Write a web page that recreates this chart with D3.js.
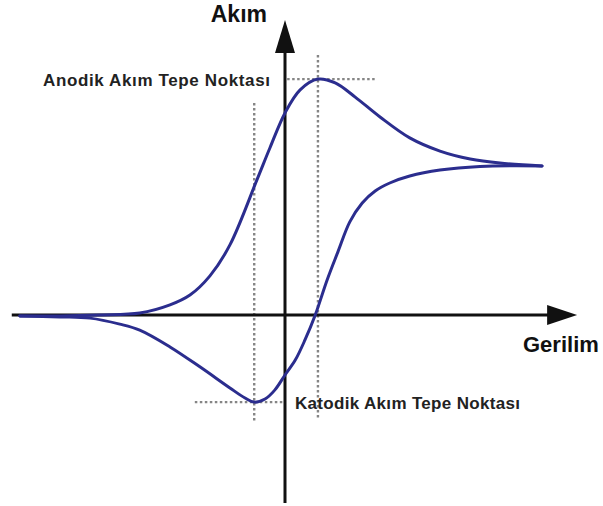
<!DOCTYPE html>
<html>
<head>
<meta charset="utf-8">
<script src="https://cdn.jsdelivr.net/npm/d3@7"></script>
<style>
  html, body { margin: 0; padding: 0; background: #fff; }
  svg { display: block; }
</style>
</head>
<body>
<svg id="chart" width="603" height="506"></svg>
<script>
// ---- Data (potential E, current I in arbitrary units) ----
const forwardE = [-0.491, -0.417, -0.343, -0.269, -0.213, -0.176, -0.139, -0.102, -0.052, -0.028, 0.000, 0.028, 0.061, 0.093, 0.130, 0.176, 0.231, 0.287, 0.343, 0.398, 0.476];
const forwardI = [-0.004, -0.004, 0.000, 0.008, 0.042, 0.083, 0.163, 0.292, 0.563, 0.696, 0.842, 0.938, 0.983, 0.967, 0.908, 0.825, 0.738, 0.683, 0.650, 0.633, 0.621];
const reverseE = [-0.491, -0.417, -0.361, -0.306, -0.269, -0.213, -0.157, -0.102, -0.074, -0.057, -0.037, -0.019, 0.000, 0.019, 0.037, 0.056, 0.078, 0.098, 0.120, 0.143, 0.167, 0.194, 0.231, 0.287, 0.361, 0.476];
const reverseI = [-0.004, -0.008, -0.013, -0.038, -0.063, -0.133, -0.217, -0.304, -0.346, -0.363, -0.350, -0.313, -0.250, -0.188, -0.104, 0.000, 0.146, 0.263, 0.388, 0.467, 0.517, 0.550, 0.579, 0.604, 0.619, 0.621];

const peakLabels = ["Anodik Akım Tepe Noktası", "Katodik Akım Tepe Noktası"];
const peakE = [0.061, -0.057];
const peakI = [0.983, -0.363];
// extents of guide lines: vertical (I from..to), horizontal (E from..to)
const guideVertI = [[1.083, -0.429], [0.883, -0.446]];
const guideHorzE = [[0.004, 0.170], [-0.167, -0.004]];

const axisLabels = ["Gerilim", "Akım"];
const axisXExtent = [-0.506, 0.541];
const axisYExtent = [-0.783, 1.229];

// ---- Scales ----
const x = d3.scaleLinear().domain([-0.5, 0.5]).range([15, 555]);
const y = d3.scaleLinear().domain([-1, 1]).range([555, 75]);

const svg = d3.select("#chart");
const font = "'Liberation Sans', Arial, Helvetica, sans-serif";

// ---- Guide dotted lines ----
const guideColor = "#858585";
const g = svg.append("g");
peakE.forEach((e, i) => {
  g.append("line")
    .attr("x1", x(e)).attr("x2", x(e))
    .attr("y1", y(guideVertI[i][0])).attr("y2", y(guideVertI[i][1]))
    .attr("stroke", guideColor).attr("stroke-width", 2.4)
    .attr("stroke-dasharray", "2.5,2.5");
  g.append("line")
    .attr("x1", x(guideHorzE[i][0])).attr("x2", x(guideHorzE[i][1]))
    .attr("y1", y(peakI[i])).attr("y2", y(peakI[i]))
    .attr("stroke", guideColor).attr("stroke-width", 2.4)
    .attr("stroke-dasharray", "2.5,2.5");
});

// ---- Axes ----
const axisColor = "#111";
const x0 = x(0), y0 = y(0);
svg.append("line")
  .attr("x1", x(axisXExtent[0])).attr("x2", x(axisXExtent[1]) - 20)
  .attr("y1", y0).attr("y2", y0)
  .attr("stroke", axisColor).attr("stroke-width", 3);
svg.append("path")
  .attr("d", `M${x(axisXExtent[1])},${y0} L${x(axisXExtent[1]) - 30},${y0 - 10} L${x(axisXExtent[1]) - 30},${y0 + 10} Z`)
  .attr("fill", axisColor);
svg.append("line")
  .attr("x1", x0).attr("x2", x0)
  .attr("y1", y(axisYExtent[0])).attr("y2", y(axisYExtent[1]) + 20)
  .attr("stroke", axisColor).attr("stroke-width", 3);
svg.append("path")
  .attr("d", `M${x0},${y(axisYExtent[1])} L${x0 - 10},${y(axisYExtent[1]) + 33} L${x0 + 10},${y(axisYExtent[1]) + 33} Z`)
  .attr("fill", axisColor);

// ---- Curves ----
const line = d3.line().x(d => x(d[0])).y(d => y(d[1])).curve(d3.curveCatmullRom.alpha(0.5));
const fwd = forwardE.map((e, i) => [e, forwardI[i]]);
const rev = reverseE.map((e, i) => [e, reverseI[i]]);
const curveColor = "#2b2d8e";
[fwd, rev].forEach(pts => {
  svg.append("path")
    .attr("d", line(pts))
    .attr("fill", "none")
    .attr("stroke", curveColor)
    .attr("stroke-width", 3)
    .attr("stroke-linecap", "round");
});

// ---- Labels ----
svg.append("text")
  .attr("x", x0 - 18).attr("y", y(axisYExtent[1]) + 2)
  .attr("text-anchor", "end")
  .attr("font-family", font).attr("font-weight", "bold").attr("font-size", 23)
  .attr("fill", "#111")
  .text(axisLabels[1]);
svg.append("text")
  .attr("x", 523).attr("y", y0 + 37)
  .attr("font-family", font).attr("font-weight", "bold").attr("font-size", 22)
  .attr("fill", "#111")
  .text(axisLabels[0]);

svg.append("text")
  .attr("x", x0 - 15).attr("y", y(peakI[0]) + 7)
  .attr("text-anchor", "end")
  .attr("font-family", font).attr("font-weight", "bold").attr("font-size", 17)
  .attr("textLength", 227).attr("lengthAdjust", "spacing")
  .attr("fill", "#222")
  .text(peakLabels[0]);
svg.append("text")
  .attr("x", x0 + 10).attr("y", y(peakI[1]) + 7)
  .attr("font-family", font).attr("font-weight", "bold").attr("font-size", 17)
  .attr("textLength", 225).attr("lengthAdjust", "spacing")
  .attr("fill", "#222")
  .text(peakLabels[1]);
</script>
</body>
</html>
